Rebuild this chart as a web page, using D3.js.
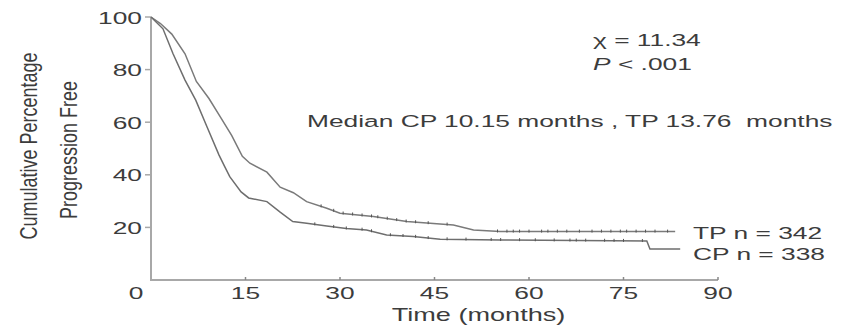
<!DOCTYPE html>
<html>
<head>
<meta charset="utf-8">
<script src="https://cdn.jsdelivr.net/npm/d3@7"></script>
<style>
  body { margin: 0; background: #fff; }
  svg text { font-family: "Liberation Sans", Arial, sans-serif; fill: #3c3c3c; }
</style>
</head>
<body>
<div id="chart"></div>
<script>
// Kaplan-Meier data (time in months, % progression free)
var tpTime = [0, 1.5, 3.3, 5.4, 7.2, 9.2, 11, 12.8, 14.5, 15.7, 18.4, 20.5, 22.6, 24.7, 27.9, 30, 35.3, 40.6, 48, 51.2, 55.4, 83.2];
var tpSurv = [100, 97.5, 93.5, 86, 75.5, 69, 62, 55, 47, 44.4, 41, 35.3, 33.2, 29.8, 27.3, 25.4, 24.1, 22.2, 20.9, 19, 18.4, 18.4];
var cpTime = [0, 1.9, 3.5, 5.4, 7.1, 8.9, 10.8, 11.7, 12.5, 14.3, 15.5, 18.4, 20.5, 22.5, 24.7, 27.9, 31, 34.2, 37.4, 41.6, 45.9, 55.4, 78.7, 79.2, 84];
var cpSurv = [100, 95.5, 86, 76, 68.4, 58.2, 47.5, 43.1, 39.3, 33.5, 31.2, 29.8, 25.8, 22.2, 21.6, 20.5, 19.6, 19, 17.1, 16.5, 15.5, 15.2, 14.8, 11.8, 11.8];
// censored observations (months)
var tpCensor = [27, 29, 30.5, 32, 33.5, 35, 36, 37.5, 39, 40.5, 42, 44, 47, 55, 56.5, 57.5, 58.5, 60, 62, 63, 64.5, 66, 68, 70, 71.5, 73, 74.5, 75.5, 77, 78.5, 80, 82];
var cpCensor = [26, 29, 31, 33.5, 35, 38, 40, 42, 44, 47, 50, 54, 55.5, 58.5, 61, 64, 66.5, 67.5, 69, 72, 73.5, 75, 78];
var xTicks = [0, 15, 30, 45, 60, 75, 90];
var yTicks = [20, 40, 60, 80, 100];

var W = 844, H = 330;
var TS = 17, SX = 1.55; // text size and horizontal stretch of the scanned figure

var svg = d3.select("#chart").append("svg")
  .attr("width", W)
  .attr("height", H);

svg.append("rect").attr("width", W).attr("height", H).attr("fill", "#fff");

var x = d3.scaleLinear().domain([0, 90]).range([151, 718]);
var y = d3.scaleLinear().domain([0, 100]).range([280, 17]);

function label(txt, px, py, anchor, size, sx, rot) {
  var t = svg.append("text")
    .attr("transform", "translate(" + px + "," + py + ") scale(" + (sx || SX) + ",1)" + (rot ? " rotate(" + rot + ")" : ""))
    .attr("text-anchor", anchor || "start")
    .style("font-size", (size || TS) + "px");
  t.text(txt);
  return t;
}

// axes
var axisColor = "#a8a8a8";
svg.append("line")
  .attr("x1", x(0)).attr("x2", x(0))
  .attr("y1", y(100)).attr("y2", y(0))
  .attr("stroke", axisColor).attr("stroke-width", 2);
svg.append("line")
  .attr("x1", x(0) - 1).attr("x2", x(90))
  .attr("y1", y(0)).attr("y2", y(0))
  .attr("stroke", axisColor).attr("stroke-width", 2);

svg.selectAll(".ytick").data(yTicks).enter().append("line")
  .attr("x1", x(0) - 6).attr("x2", x(0))
  .attr("y1", function(d) { return y(d); })
  .attr("y2", function(d) { return y(d); })
  .attr("stroke", axisColor).attr("stroke-width", 1.5);

svg.selectAll(".xtick").data(xTicks.slice(1)).enter().append("line")
  .attr("x1", function(d) { return x(d); })
  .attr("x2", function(d) { return x(d); })
  .attr("y1", y(0) - 3).attr("y2", y(0))
  .attr("stroke", "#888").attr("stroke-width", 1.5);

yTicks.forEach(function(d) {
  label(String(d), x(0) - 9, y(d) + 6.5, "end");
});
xTicks.forEach(function(d) {
  // the 0 sits in the corner, left of the origin
  label(String(d), d === 0 ? x(d) - 15 : x(d), y(0) + 19, "middle");
});

label("Time (months)", (x(0) + x(90)) / 2 + 44, 321, "middle", 17.5);
label("Cumulative Percentage", 37, 146, "middle", 18, 1.3, -90);
label("Progression Free", 77, 150, "middle", 18, 1.3, -90);

// curves
var line = d3.line()
  .x(function(d) { return x(d[0]); })
  .y(function(d) { return y(d[1]); });

function drawSeries(times, surv, censor, color) {
  var pts = d3.zip(times, surv);
  svg.append("path")
    .datum(pts)
    .attr("d", line)
    .attr("fill", "none")
    .attr("stroke", color)
    .attr("stroke-width", 1.5);
  var bis = d3.bisector(function(d) { return d; }).right;
  svg.selectAll(null).data(censor).enter().append("line")
    .attr("x1", function(d) { return x(d); })
    .attr("x2", function(d) { return x(d); })
    .attr("y1", function(d) {
      var i = Math.max(1, Math.min(times.length - 1, bis(times, d)));
      var t0 = times[i - 1], t1 = times[i];
      var v = surv[i - 1] + (surv[i] - surv[i - 1]) * (d - t0) / (t1 - t0);
      return y(v) - 2;
    })
    .attr("y2", function(d) {
      var i = Math.max(1, Math.min(times.length - 1, bis(times, d)));
      var t0 = times[i - 1], t1 = times[i];
      var v = surv[i - 1] + (surv[i] - surv[i - 1]) * (d - t0) / (t1 - t0);
      return y(v) + 1;
    })
    .attr("stroke", "#555")
    .attr("stroke-width", 1);
}

drawSeries(tpTime, tpSurv, tpCensor, "#7a7a7a");
drawSeries(cpTime, cpSurv, cpCensor, "#6e6e6e");

// annotations
label("\u03C7 = 11.34", 593, 46, "start");
var p = label("", 593, 70, "start");
p.append("tspan").style("font-style", "italic").text("P");
p.append("tspan").text(" < .001");
label("Median CP 10.15 months , TP 13.76  months", 307, 127, "start").attr("xml:space", "preserve").style("white-space", "pre");
label("TP n = 342", 693, 239, "start");
label("CP n = 338", 693, 260, "start");
</script>
</body>
</html>
